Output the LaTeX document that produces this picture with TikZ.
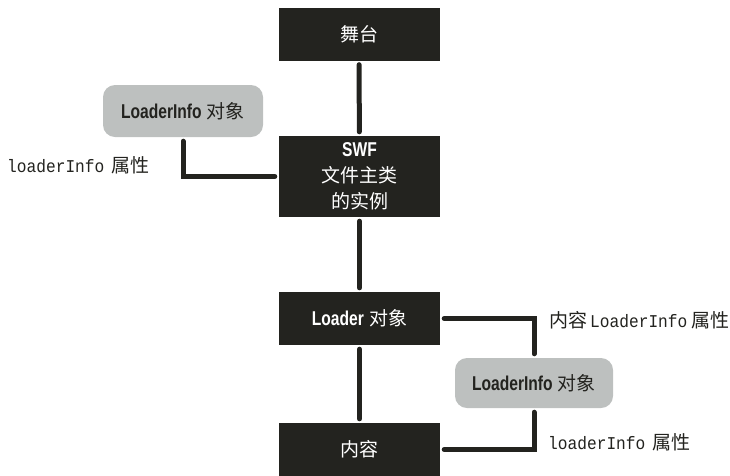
\documentclass[tikz,border=0pt]{standalone}
\usepackage{fontspec}
\setmainfont{Liberation Sans}
\newfontfamily\cjkfont{Noto Sans CJK SC}
\newfontfamily\condfont[FakeStretch=0.78]{Liberation Sans}
\newfontfamily\monofont[FakeStretch=0.9]{Liberation Mono}
\newcommand\zhtxt[1]{{\cjkfont #1}}
\newcommand\lattxt[1]{{\condfont\bfseries\fontsize{20}{26}\selectfont #1}}
\newcommand\codetxt[1]{{\monofont\fontsize{18}{20}\selectfont #1}}
\definecolor{boxdark}{HTML}{23231F}
\definecolor{boxgrey}{HTML}{BDC0BF}

\begin{document}
\begin{tikzpicture}[x=1pt,y=-1pt,
    blackbox/.style={fill=boxdark,text=white,minimum width=161pt,minimum height=53pt,
        inner sep=0pt,align=center,font=\fontsize{19}{26}\selectfont},
    greybox/.style={fill=boxgrey,text=boxdark,rounded corners=12pt,minimum width=160pt,
        minimum height=52pt,inner sep=0pt,font=\fontsize{19}{20}\selectfont},
    link/.style={draw=boxdark,line width=5pt,line cap=round,shorten <=4pt,shorten >=4pt},
    lbl/.style={anchor=west,inner sep=0pt,text=boxdark,font=\fontsize{19}{20}\selectfont}]
    \useasboundingbox (0,0) rectangle (730,475);
    \node[blackbox] (stage) at (359,34) {\zhtxt{舞台}};
    \node[blackbox,minimum height=81pt] (swf) at (359.5,176.5)
        {\lattxt{SWF}\\\zhtxt{文件主类}\\\zhtxt{的实例}};
    \node[blackbox] (loader) at (359.5,318.5) {\lattxt{Loader} \zhtxt{对象}};
    \node[blackbox] (content) at (359.5,449.5) {\zhtxt{内容}};
    \node[greybox] (info1) at (183,111) {\lattxt{LoaderInfo} \zhtxt{对象}};
    \node[greybox,minimum width=158pt,minimum height=50pt] (info2) at (534,383)
        {\lattxt{LoaderInfo} \zhtxt{对象}};

    \draw[link] (stage) -- (swf);
    \draw[link] (swf) -- (loader);
    \draw[link] (loader) -- (content);
    \draw[link] (info1.south) |- (swf.west);
    \draw[link] (loader.east) -| (info2.north);
    \draw[link] (info2.south) |- (content.east);

    \node[lbl] (prop1) at (7,165) {\codetxt{loaderInfo}\hspace{7pt}\zhtxt{属性}};
    \node[lbl] (prop2) at (549,320) {\zhtxt{内容}\hspace{3pt}\codetxt{LoaderInfo}\hspace{4pt}\zhtxt{属性}};
    \node[lbl] (prop3) at (548,442) {\codetxt{loaderInfo}\hspace{7pt}\zhtxt{属性}};
\end{tikzpicture}
\end{document}
